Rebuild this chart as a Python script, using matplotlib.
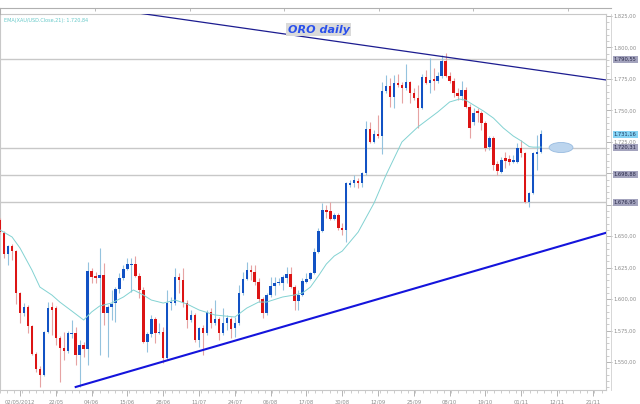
import matplotlib
matplotlib.use("Agg")
import matplotlib.pyplot as plt
import matplotlib.transforms as mtransforms
from matplotlib.lines import Line2D
from matplotlib.patches import Ellipse
from matplotlib.ticker import MultipleLocator, FixedLocator, FuncFormatter
import numpy as np

# XAU/USD daily candles (price units)
opens = [
    1662.9, 1652.8, 1635.8, 1642.2, 1638.2, 1604.8, 1588.9, 1593.7, 1578.6, 1556.4,
    1544.4, 1539.7, 1573.8, 1593.7, 1592.9, 1569.0, 1561.1, 1558.8, 1572.2, 1573.0,
    1555.6, 1563.5, 1560.4, 1622.3, 1618.4, 1616.8, 1619.1, 1588.9, 1593.7, 1596.9,
    1608.0, 1616.8, 1623.9, 1627.1, 1627.9, 1618.4, 1607.2, 1565.9, 1572.2, 1584.2,
    1573.0, 1573.8, 1553.2, 1596.9, 1596.9, 1617.6, 1615.2, 1596.9, 1583.4, 1587.3,
    1567.5, 1577.0, 1573.0, 1589.7, 1581.0, 1584.2, 1573.0, 1581.0, 1584.2, 1577.0,
    1581.0, 1604.8, 1616.0, 1623.1, 1621.5, 1613.6, 1600.1, 1588.9, 1603.3, 1610.4,
    1612.8, 1612.8, 1616.8, 1619.9, 1609.6, 1598.5, 1603.3, 1613.6, 1616.0, 1620.7,
    1637.4, 1654.1, 1670.8, 1670.3, 1663.7, 1666.8, 1656.5, 1654.9, 1690.7, 1692.3,
    1693.9, 1692.3, 1700.2, 1735.2, 1724.8, 1731.2, 1729.6, 1765.4, 1769.4, 1760.6,
    1771.7, 1770.1, 1767.8, 1772.5, 1763.8, 1759.8, 1751.9, 1776.5, 1771.7, 1774.9,
    1773.3, 1777.3, 1789.2, 1777.3, 1773.3, 1763.8, 1761.8, 1766.2, 1752.7, 1740.7,
    1749.5, 1747.9, 1739.9, 1720.9, 1728.0, 1707.4, 1701.0, 1712.1, 1711.3, 1708.9,
    1708.9, 1720.1, 1716.1, 1677.2, 1684.3, 1715.3, 1716.9,
]
highs = [
    1664.4, 1654.1, 1643.0, 1643.8, 1639.0, 1605.6, 1596.9, 1595.3, 1579.4, 1558.0,
    1546.8, 1574.6, 1597.7, 1597.7, 1594.5, 1570.6, 1573.8, 1574.6, 1583.4, 1577.8,
    1567.5, 1565.9, 1629.5, 1624.7, 1621.5, 1640.6, 1628.7, 1595.3, 1607.2, 1609.6,
    1620.7, 1627.1, 1632.6, 1632.6, 1634.2, 1620.7, 1609.6, 1573.8, 1587.3, 1585.7,
    1581.0, 1577.8, 1607.2, 1601.7, 1624.7, 1620.7, 1624.7, 1599.3, 1591.3, 1588.9,
    1577.8, 1579.4, 1591.3, 1592.9, 1599.3, 1585.7, 1592.9, 1587.3, 1585.7, 1585.7,
    1611.2, 1621.5, 1629.5, 1627.1, 1627.1, 1616.8, 1601.7, 1604.8, 1617.6, 1617.6,
    1616.8, 1619.1, 1625.5, 1625.5, 1611.2, 1607.2, 1616.8, 1620.7, 1621.5, 1640.6,
    1656.5, 1676.4, 1674.8, 1677.2, 1668.4, 1668.4, 1660.5, 1693.1, 1694.7, 1698.6,
    1696.2, 1701.0, 1741.5, 1740.7, 1734.4, 1746.3, 1772.5, 1778.1, 1775.7, 1778.1,
    1778.9, 1772.5, 1786.8, 1773.3, 1767.8, 1770.1, 1778.9, 1782.1, 1791.6, 1783.7,
    1780.5, 1794.0, 1795.6, 1780.5, 1775.7, 1767.8, 1773.3, 1768.6, 1755.1, 1751.9,
    1751.9, 1749.5, 1741.5, 1729.6, 1729.6, 1709.8, 1712.9, 1716.9, 1714.5, 1714.5,
    1724.0, 1726.4, 1716.9, 1685.1, 1716.9, 1730.4, 1734.4,
]
lows = [
    1651.7, 1632.6, 1627.1, 1631.1, 1596.1, 1581.0, 1586.5, 1573.0, 1555.6, 1542.1,
    1530.1, 1538.9, 1573.0, 1571.4, 1563.5, 1534.1, 1551.6, 1557.2, 1569.0, 1547.6,
    1530.1, 1554.0, 1547.6, 1612.8, 1612.8, 1555.6, 1579.4, 1554.0, 1583.4, 1581.8,
    1604.8, 1615.2, 1623.1, 1605.6, 1617.6, 1600.9, 1565.1, 1558.0, 1569.8, 1565.1,
    1572.2, 1549.2, 1551.6, 1591.3, 1595.3, 1604.8, 1593.7, 1577.0, 1581.8, 1565.9,
    1562.0, 1555.6, 1571.4, 1577.0, 1579.4, 1567.5, 1571.4, 1575.4, 1569.0, 1569.8,
    1579.4, 1603.3, 1615.2, 1615.2, 1611.2, 1597.7, 1585.0, 1587.3, 1601.7, 1603.3,
    1611.2, 1607.2, 1612.8, 1608.8, 1591.3, 1591.3, 1602.5, 1612.8, 1615.2, 1619.9,
    1636.6, 1653.3, 1664.4, 1662.9, 1662.9, 1654.9, 1651.0, 1645.4, 1689.1, 1689.1,
    1688.3, 1689.1, 1698.6, 1724.0, 1724.0, 1728.0, 1715.3, 1763.8, 1752.7, 1751.9,
    1768.6, 1755.8, 1766.2, 1755.8, 1758.2, 1736.0, 1751.1, 1771.0, 1763.8, 1766.2,
    1771.7, 1775.7, 1776.5, 1771.7, 1760.6, 1758.2, 1758.2, 1751.9, 1728.0, 1738.4,
    1740.7, 1734.4, 1717.7, 1718.5, 1702.6, 1698.6, 1700.2, 1704.2, 1706.6, 1708.1,
    1708.1, 1712.9, 1676.4, 1673.2, 1683.5, 1702.6, 1716.1,
]
closes = [
    1653.3, 1635.8, 1642.2, 1638.2, 1604.8, 1588.9, 1593.7, 1578.6, 1556.4, 1544.4,
    1539.7, 1573.8, 1592.9, 1591.3, 1569.0, 1561.1, 1558.8, 1573.0, 1573.0, 1555.6,
    1563.5, 1560.4, 1622.3, 1617.6, 1616.8, 1619.1, 1588.9, 1593.7, 1596.1, 1608.0,
    1616.8, 1623.9, 1627.9, 1627.9, 1618.4, 1607.2, 1565.9, 1572.2, 1584.2, 1573.0,
    1573.8, 1553.2, 1596.9, 1597.7, 1617.6, 1615.2, 1596.9, 1583.4, 1587.3, 1567.5,
    1577.0, 1573.0, 1589.7, 1581.0, 1584.2, 1573.0, 1581.0, 1585.0, 1576.2, 1581.0,
    1604.8, 1616.0, 1623.1, 1621.5, 1613.6, 1600.1, 1588.9, 1603.3, 1610.4, 1612.8,
    1613.6, 1617.6, 1619.9, 1609.6, 1598.5, 1603.3, 1614.4, 1616.0, 1620.7, 1637.4,
    1654.1, 1670.8, 1669.2, 1663.7, 1666.8, 1656.5, 1654.9, 1692.3, 1692.3, 1694.7,
    1692.3, 1700.2, 1735.2, 1724.8, 1731.2, 1729.6, 1765.4, 1769.4, 1760.6, 1771.7,
    1770.1, 1767.8, 1772.5, 1763.8, 1759.8, 1751.9, 1776.5, 1771.7, 1774.1, 1773.3,
    1777.3, 1789.2, 1777.3, 1773.3, 1763.8, 1761.8, 1766.2, 1752.7, 1736.0, 1747.9,
    1747.9, 1739.9, 1720.1, 1728.0, 1706.6, 1701.8, 1710.5, 1709.8, 1708.9, 1710.5,
    1720.1, 1716.1, 1677.2, 1684.3, 1716.1, 1716.9, 1731.16,
]

ema_bar = [0, 3, 5, 8, 10, 13, 15, 18, 21, 23, 25, 28, 31, 33.5, 36, 38, 41, 44,
           47, 50, 54, 59, 62, 65, 67, 71, 74, 76, 78, 80, 82, 84, 86, 90, 94, 97,
           101, 105, 110, 113, 115.5, 117, 119, 121.5, 124, 126.5, 129, 131, 133,
           134, 136]
ema_val = [1654.9, 1649.4, 1640.6, 1623.1, 1609.6, 1603.3, 1597.7, 1590.6, 1583.4,
           1589.8, 1594.5, 1596.9, 1601.7, 1607.3, 1603.3, 1599.3, 1596.9, 1599.3,
           1596.1, 1591.4, 1587.4, 1585.8, 1592.9, 1597.7, 1597.7, 1601.7, 1603.3,
           1604.9, 1609.6, 1618.4, 1627.9, 1634.3, 1638.2, 1653.3, 1676.4, 1698.6,
           1724.9, 1736.8, 1748.7, 1756.7, 1759.0, 1758.2, 1754.3, 1749.5, 1743.9,
           1736.0, 1729.6, 1725.7, 1721.2, 1720.8, 1720.84]

# horizontal levels and the last price
levels = [1790.55, 1720.31, 1698.88, 1676.95]
last_price = 1731.16
# scale labels hidden behind the level tags in the original
covered_ticks = [1675.0, 1700.0]

# trend lines: (bar, price) anchors
upper_line_bar = [30, 160]
upper_line_price = [1829.5, 1770.7]
lower_line_bar = [19, 160]
lower_line_price = [1530.2, 1659.8]

# target ellipse
target_bar = 141
target_price = 1720.5

date_labels = ["02/05/2012", "22/05", "04/06", "15/06", "28/06", "11/07", "24/07",
               "06/08", "17/08", "30/08", "12/09", "25/09", "08/10", "19/10",
               "01/11", "12/11", "21/11"]
first_label_bar = 5
label_step = 9

RED = "#dc1414"
BLUE = "#1252c4"
RED_WICK = "#e6a3a3"
BLUE_WICK = "#94c3de"
FRAME = "#c8c8c8"
TXT = "#8c8c8c"


def fmt_price(v, _pos=None):
    s = f"{v:,.2f}"
    return s.replace(",", "#").replace(".", ",").replace("#", ".")


def fmt_scale(v, pos=None):
    if any(abs(v - t) < 0.01 for t in covered_ticks):
        return ""
    return fmt_price(v)


fig = plt.figure(figsize=(6.4, 4.04), dpi=100)
ax = fig.add_axes([0.0, 14 / 404, 606 / 640, 376 / 404])

o = np.array(opens)
h = np.array(highs)
l = np.array(lows)
c = np.array(closes)
x = np.arange(len(c))
up = c >= o

# wicks
ax.vlines(x[up], l[up], h[up], color=BLUE_WICK, lw=0.8, zorder=3)
ax.vlines(x[~up], l[~up], h[~up], color=RED_WICK, lw=0.8, zorder=3)
# bodies
body_lo = np.minimum(o, c)
body_h = np.maximum(np.abs(c - o), 0.9)
ax.bar(x[up], body_h[up], bottom=body_lo[up], width=0.62, color=BLUE, lw=0, zorder=4)
ax.bar(x[~up], body_h[~up], bottom=body_lo[~up], width=0.62, color=RED, lw=0, zorder=4)

# EMA
ax.plot(ema_bar, ema_val, color="#82d2d2", lw=0.7, zorder=5)

# levels
for lv in levels:
    ax.axhline(lv, color=FRAME, lw=1.0, zorder=1)

# trend lines
ax.plot(upper_line_bar, upper_line_price, color="#1c1c90", lw=0.9, zorder=6)
ax.plot(lower_line_bar, lower_line_price, color="#1414dc", lw=1.5, zorder=6)

ax.add_patch(Ellipse((target_bar, target_price), width=6.0, height=8.0,
                     fc="#bcd5ee", ec="#98bbe0", lw=0.6, zorder=6))

ax.set_xlim(-0.03, 152.3)
ax.set_ylim(1527.8, 1826.6)

# axes look
for side, sp in ax.spines.items():
    sp.set_color(FRAME)
    sp.set_linewidth(0.8)

ax.yaxis.tick_right()
ax.yaxis.set_major_locator(MultipleLocator(25))
ax.yaxis.set_minor_locator(MultipleLocator(5))
ax.yaxis.set_major_formatter(FuncFormatter(fmt_scale))
ax.tick_params(axis="y", which="major", length=4, width=0.6, color="#a8a8a8",
               labelsize=3.7, labelcolor=TXT, pad=1.5)
ax.tick_params(axis="y", which="minor", length=2.2, width=0.5, color="#b8b8b8")

tick_pos = [first_label_bar + label_step * k for k in range(len(date_labels))]
ax.xaxis.set_major_locator(FixedLocator(tick_pos))
ax.set_xticklabels(date_labels)
ax.xaxis.set_minor_locator(MultipleLocator(label_step / 5))
ax.tick_params(axis="x", which="major", length=4, width=0.6, color="#a8a8a8",
               labelsize=3.8, labelcolor=TXT, pad=2.5)
ax.tick_params(axis="x", which="minor", length=2, width=0.5, color="#b8b8b8")

# price tags on the right
trans = mtransforms.blended_transform_factory(ax.transAxes, ax.transData)
for lv in levels:
    ax.text(1.013, lv, fmt_price(lv), transform=trans, fontsize=3.7,
            color="#2a2a4a", va="center", ha="left", clip_on=False, zorder=10,
            bbox=dict(boxstyle="square,pad=0.2", fc="#a3a3bd", ec="none"))
ax.text(1.013, last_price, fmt_price(last_price), transform=trans, fontsize=3.7,
        color="#1a3a60", va="center", ha="left", clip_on=False, zorder=10,
        bbox=dict(boxstyle="square,pad=0.2", fc="#86d3f4", ec="none"))

# indicator caption and title box
ax.text(0.006, 0.99, "EMA(XAU/USD.Close,21): " + fmt_price(ema_val[-1]),
        transform=ax.transAxes, fontsize=3.5, color="#66c9c9", va="top", ha="left")
ax.text(0.526, 0.958, "ORO daily", transform=ax.transAxes, fontsize=8,
        fontweight="bold", fontstyle="italic", color="#2a50ec", va="center",
        ha="center", zorder=10,
        bbox=dict(boxstyle="square,pad=0.15", fc="#dadada", ec="none"))

# thin strip above the chart
strip = fig.add_axes([0.0, (404 - 14) / 404, 611 / 640, 6 / 404])
strip.set_xlim(0, 611)
strip.set_ylim(0, 1)
strip.patch.set_alpha(0)
for side in ("bottom", "right"):
    strip.spines[side].set_visible(False)
strip.spines["top"].set_color("#b0b0b0")
strip.spines["left"].set_color("#b0b0b0")
strip.spines["top"].set_linewidth(0.8)
strip.set_yticks([])
strip.xaxis.tick_top()
strip.set_xticks([95 + 94.5 * k for k in range(6)])
strip.set_xticklabels([])
strip.tick_params(axis="x", direction="in", length=2.5, width=0.6, color="#b0b0b0")

# price scale edge line
fig.add_artist(Line2D([611 / 640, 611 / 640], [14 / 404, 390 / 404],
                      color="#d0d0d0", lw=0.6))

fig.savefig("out.png", dpi=100)
